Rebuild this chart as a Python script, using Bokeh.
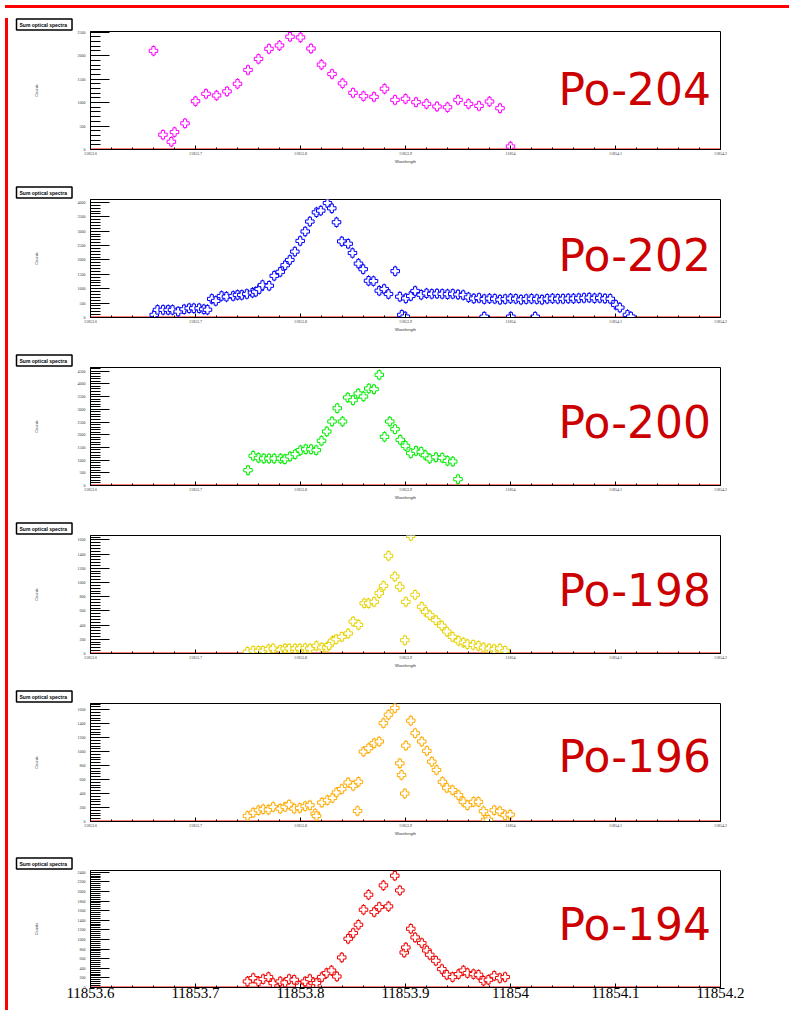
import numpy as np
from bokeh.plotting import figure
from bokeh.layouts import column, row
from bokeh.models import Range1d, FixedTicker, Span, Label, ColumnDataSource, Div
from bokeh.embed import file_html
from bokeh.resources import INLINE

X0, X1 = 11853.6, 11854.2
x_ticks = [11853.6, 11853.7, 11853.8, 11853.9, 11854, 11854.1, 11854.2]
x_tick_labels = ["11853.6", "11853.7", "11853.8", "11853.9", "11854", "11854.1", "11854.2"]

# ---------------- data ----------------
po204_wl = [11853.660, 11853.669, 11853.677, 11853.680, 11853.690, 11853.700, 11853.710, 11853.720,
            11853.730, 11853.740, 11853.750, 11853.760, 11853.770, 11853.780, 11853.790, 11853.800,
            11853.810, 11853.820, 11853.830, 11853.840, 11853.850, 11853.860, 11853.870, 11853.880,
            11853.890, 11853.900, 11853.910, 11853.920, 11853.930, 11853.940, 11853.950, 11853.960,
            11853.970, 11853.980, 11853.990, 11854.000]
po204_counts = [2103, 315, 165, 371, 558, 1030, 1187, 1152, 1238, 1401, 1695, 1931, 2146, 2217, 2404, 2389,
                2152, 1809, 1609, 1410, 1208, 1137, 1122, 1294, 1058, 1080, 1009, 972, 916, 901, 1058, 972,
                929, 1023, 880, 64]

po202_wl = [11853.6607, 11853.6638, 11853.6692, 11853.6740, 11853.6781, 11853.6835, 11853.6892, 11853.6940,
            11853.6984, 11853.7035, 11853.7079, 11853.7114, 11853.7155, 11853.7193, 11853.7248, 11853.7295,
            11853.7359, 11853.7400, 11853.7441, 11853.7489, 11853.7543, 11853.7574, 11853.7607, 11853.7638,
            11853.7702, 11853.7750, 11853.7807, 11853.7854, 11853.7898, 11853.7946, 11853.7997, 11853.8045,
            11853.8089, 11853.8152, 11853.8193, 11853.8257, 11853.8298, 11853.8343, 11853.8393, 11853.8454,
            11853.8495, 11853.8552, 11853.8597, 11853.8648, 11853.8695, 11853.8750, 11853.8797, 11853.8838,
            11853.8902, 11853.8946, 11853.8965, 11853.8997, 11853.9003, 11853.9050, 11853.9092,
            11853.915, 11853.920, 11853.925, 11853.930, 11853.935, 11853.940, 11853.945, 11853.950,
            11853.955, 11853.960, 11853.965, 11853.970, 11853.975, 11853.980, 11853.985, 11853.990,
            11853.995, 11854.000, 11854.005, 11854.010, 11854.015, 11854.020, 11854.025, 11854.030,
            11854.035, 11854.040, 11854.045, 11854.050, 11854.055, 11854.060, 11854.065, 11854.070,
            11854.075, 11854.080, 11854.085, 11854.090, 11854.095,
            11854.1003, 11854.1041, 11854.1114, 11854.1146,
            11853.975, 11854.0003, 11854.0235]
po202_counts = [93, 265, 265, 265, 265, 207, 286, 321, 321, 321, 286, 270, 645, 576, 748, 724,
                748, 783, 783, 817, 862, 896, 989, 1127, 1103, 1448, 1586, 1817, 2000, 2290, 2660, 2989,
                3334, 3655, 3713, 3976, 3793, 3310, 2645, 2562, 2241, 1872, 1679, 1276, 1265, 931, 989, 817,
                1610, 724, 93, 34, 666, 748, 921,
                790, 840, 820, 830, 820, 810, 820, 800, 780, 700, 660, 680, 640, 660, 650, 620,
                640, 660, 650, 620, 640, 650, 640, 620, 650, 660, 650, 650, 660, 660, 670, 680,
                690, 670, 680, 660, 650,
                438, 345, 93, 34,
                30, 30, 30]

po200_wl = [11853.750, 11853.755, 11853.760, 11853.765, 11853.770, 11853.775, 11853.781, 11853.785,
            11853.790, 11853.795, 11853.800, 11853.805, 11853.810, 11853.815, 11853.820, 11853.825,
            11853.830, 11853.835, 11853.840, 11853.845, 11853.850, 11853.855, 11853.860, 11853.865,
            11853.870, 11853.875, 11853.880, 11853.885, 11853.890, 11853.895, 11853.900, 11853.905,
            11853.910, 11853.915, 11853.919, 11853.923, 11853.929, 11853.935, 11853.940, 11853.945,
            11853.950]
po200_counts = [602, 1169, 1090, 1063, 1063, 1063, 1063, 1035, 1142, 1232, 1390, 1429, 1429, 1390, 1760, 2126,
                2520, 3043, 2520, 3465, 3358, 3622, 3504, 3819, 3791, 4358, 1917, 2520, 2217, 1799, 1563, 1272,
                1366, 1327, 1193, 1063, 1114, 1090, 972, 945, 248]

po198_wl = [11853.7495, 11853.7550, 11853.7600, 11853.7643, 11853.7695, 11853.7740, 11853.7807, 11853.7854,
            11853.7892, 11853.7949, 11853.7993, 11853.8045, 11853.8089, 11853.8152, 11853.8203, 11853.8248,
            11853.8273, 11853.8305, 11853.8340, 11853.8393, 11853.8454, 11853.8502, 11853.8552, 11853.8607,
            11853.8648, 11853.8702, 11853.8750, 11853.8791, 11853.8838, 11853.8898, 11853.8946, 11853.8994,
            11853.9003, 11853.9050, 11853.9092, 11853.9155, 11853.9193, 11853.9231, 11853.9289, 11853.9346,
            11853.9393, 11853.9448, 11853.9505, 11853.9552, 11853.9590, 11853.9645, 11853.9695, 11853.9743,
            11853.9797, 11853.9845, 11853.9898, 11853.9949]
po198_counts = [24, 38, 38, 38, 61, 70, 52, 70, 70, 70, 70, 75, 70, 108, 84, 84,
                117, 179, 201, 235, 282, 451, 404, 708, 708, 728, 849, 953, 1376, 1084, 939, 187,
                728, 1657, 827, 658, 587, 539, 469, 390, 310, 235, 179, 155, 131, 122, 108, 84,
                70, 61, 70, 38]

po196_wl = [11853.7495, 11853.7550, 11853.7600, 11853.7645, 11853.7695, 11853.7740, 11853.7807, 11853.7854,
            11853.7892, 11853.7940, 11853.7993, 11853.8045, 11853.8089, 11853.8140, 11853.8152, 11853.8203,
            11853.8257, 11853.8305, 11853.8343, 11853.8393, 11853.8454, 11853.8502, 11853.8543, 11853.8552,
            11853.8600, 11853.8648, 11853.8702, 11853.8750, 11853.8790, 11853.8838, 11853.8898, 11853.8946,
            11853.8962, 11853.8993, 11853.9003, 11853.9050, 11853.9092, 11853.9155, 11853.9203, 11853.9250,
            11853.9295, 11853.9352, 11853.9393, 11853.9448, 11853.9505, 11853.9552, 11853.9590, 11853.9648,
            11853.9695, 11853.9743, 11853.9765, 11853.9790, 11853.9845, 11853.9898, 11853.9949, 11853.9997]
po196_counts = [79, 127, 161, 176, 170, 209, 184, 209, 242, 184, 194, 219, 233, 112, 79, 271,
                305, 338, 415, 463, 558, 511, 151, 568, 1000, 1048, 1120, 1144, 1407, 1528, 1623, 832,
                665, 400, 1086, 1442, 1263, 1144, 1010, 856, 737, 568, 482, 449, 377, 281, 233, 281,
                281, 147, 26, 26, 161, 147, 89, 98]

po194_wl = [11853.7495, 11853.7550, 11853.7600, 11853.7645, 11853.7695, 11853.7740, 11853.7807, 11853.7854,
            11853.7892, 11853.7940, 11853.7993, 11853.8045, 11853.8089, 11853.8121, 11853.8152, 11853.8203,
            11853.8248, 11853.8295, 11853.8346, 11853.8393, 11853.8454, 11853.8502, 11853.8552, 11853.8600,
            11853.8648, 11853.8702, 11853.8750, 11853.8790, 11853.8838, 11853.8898, 11853.8946, 11853.8988,
            11853.9003, 11853.9050, 11853.9092, 11853.9155, 11853.9203, 11853.9231, 11853.9289, 11853.9346,
            11853.9393, 11853.9448, 11853.9505, 11853.9552, 11853.9590, 11853.9648, 11853.9695, 11853.9743,
            11853.9790, 11853.9845, 11853.9898, 11853.9949]
po194_counts = [125, 196, 125, 175, 217, 92, 125, 104, 175, 160, 35, 125, 175, 92, 92, 217,
                300, 354, 229, 625, 1014, 1133, 1306, 1619, 1931, 1571, 1675, 2125, 1688, 2327, 2021, 729,
                833, 1223, 1042, 925, 771, 681, 556, 383, 265, 217, 279, 354, 300, 279, 265, 140,
                160, 244, 196, 217]

isotopes = ["Po-204", "Po-202", "Po-200", "Po-198", "Po-196", "Po-194"]
colors = ["#ff00ff", "#0000ff", "#00ee00", "#e6d200", "#ffaa00", "#f00000"]
y_max = [2515, 4100, 4646, 1662, 1688, 2435]
y_step = [500, 500, 500, 200, 200, 200]
y_top_tick = [2500, 4000, 4500, 1600, 1600, 2400]
wls = [po204_wl, po202_wl, po200_wl, po198_wl, po196_wl, po194_wl]
cnts = [po204_counts, po202_counts, po200_counts, po198_counts, po196_counts, po194_counts]

# ---------------- layout constants ----------------
FW, FH = 630, 118
FIG_W = 781
BL = 77
heights = [165, 168, 168, 168, 168, 155]
tops = [18, 21, 21, 21, 21, 20]
label_frac = [0.506, 0.525, 0.53, 0.53, 0.55, 0.535]
DXPP = (X1 - X0) / FW

x_minor = [round(X0 + 0.02 * i, 2) for i in range(0, 31)]

figs = []
for k in range(6):
    last = (k == 5)
    h = heights[k]
    fh = 117 if last else FH
    bottom = h - tops[k] - fh
    ymax = y_max[k]
    p = figure(width=FIG_W, height=h, x_range=Range1d(X0, X1), y_range=Range1d(0, ymax),
               output_backend="svg", toolbar_location=None, title="Sum optical spectra",
               min_border_left=BL, min_border_right=FIG_W - BL - FW,
               min_border_top=tops[k], min_border_bottom=bottom)
    p.xgrid.visible = False
    p.ygrid.visible = False
    p.outline_line_color = "black"
    p.outline_line_width = 1
    p.background_fill_color = "white"
    p.border_fill_color = "white"

    # title box
    p.title.align = "left"
    p.title.offset = -74
    p.title.standoff = 3
    p.title.text_font = "Liberation Sans"
    p.title.text_font_size = "5px"
    p.title.text_font_style = "bold"
    p.title.text_color = "black"
    p.title.background_fill_color = "white"
    p.title.border_line_color = "black"
    p.title.border_line_width = 1.5
    p.title.padding = dict(left=3, right=5, top=3, bottom=2)

    # axes
    p.xaxis.ticker = FixedTicker(ticks=x_ticks, minor_ticks=x_minor)
    p.xaxis.major_label_overrides = {t: s for t, s in zip(x_ticks, x_tick_labels)}
    p.xaxis.major_tick_in = 4
    p.xaxis.major_tick_out = 0
    p.xaxis.minor_tick_in = 2
    p.xaxis.minor_tick_out = 0
    p.xaxis.major_label_text_font = "Liberation Serif"
    if last:
        p.xaxis.major_label_text_font_size = "15px"
        p.xaxis.major_label_text_color = "black"
        p.xaxis.major_label_standoff = 0
    else:
        p.xaxis.major_label_text_font_size = "4px"
        p.xaxis.major_label_text_color = "#333333"
        p.xaxis.major_label_standoff = 2
        p.xaxis.axis_label = "Wavelength"
        p.xaxis.axis_label_text_font = "Liberation Sans"
        p.xaxis.axis_label_text_font_size = "4px"
        p.xaxis.axis_label_text_font_style = "normal"
        p.xaxis.axis_label_text_color = "#333333"
        p.xaxis.axis_label_standoff = 1

    step = y_step[k]
    yt = list(range(0, y_top_tick[k] + 1, step))
    ym = [v for v in range(0, int(ymax) + 1, step // 5)]
    p.yaxis.ticker = FixedTicker(ticks=yt, minor_ticks=ym)
    p.yaxis.major_tick_in = 19
    p.yaxis.major_tick_out = 0
    p.yaxis.minor_tick_in = 10
    p.yaxis.minor_tick_out = 0
    p.yaxis.major_label_text_font = "Liberation Serif"
    p.yaxis.major_label_text_font_size = "4px"
    p.yaxis.major_label_text_color = "#333333"
    p.yaxis.major_label_standoff = 5
    p.yaxis.axis_label = "Counts"
    p.yaxis.axis_label_text_font = "Liberation Sans"
    p.yaxis.axis_label_text_font_size = "4px"
    p.yaxis.axis_label_text_font_style = "normal"
    p.yaxis.axis_label_text_color = "#333333"
    p.yaxis.axis_label_standoff = 36
    for ax in (p.xaxis[0], p.yaxis[0]):
        ax.axis_line_color = "black"
        ax.major_tick_line_color = "black"
        ax.minor_tick_line_color = "black"

    # red line at zero
    p.add_layout(Span(location=0, dimension="width", line_color="#ff0000", line_width=2, level="underlay"))

    src = ColumnDataSource(dict(x=wls[k], y=cnts[k]))
    p.scatter("x", "y", source=src, marker="dash", angle=np.pi / 2, size=11,
              line_color=colors[k], line_width=1)
    p.scatter("x", "y", source=src, marker="plus", size=8.5, fill_color="white",
              line_color=colors[k], line_width=1)

    # isotope label
    p.add_layout(Label(x=X0 + (556 - 88) * DXPP, y=ymax * label_frac[k], text=isotopes[k],
                       text_font="DejaVu Sans", text_font_size="44px", text_color="#cc0000",
                       text_align="left", text_baseline="alphabetic"))
    figs.append(p)

total_h = sum(heights)
top_bar = Div(text="", width=FIG_W + 3, height=3, styles={"background-color": "#ff0000"})
left_bar = Div(text="", width=3, height=total_h, styles={"background-color": "#ff0000"})
layout = column(top_bar, row(left_bar, column(*figs, spacing=0), spacing=0), spacing=0)

open("out.html", "w").write(file_html(layout, INLINE))
